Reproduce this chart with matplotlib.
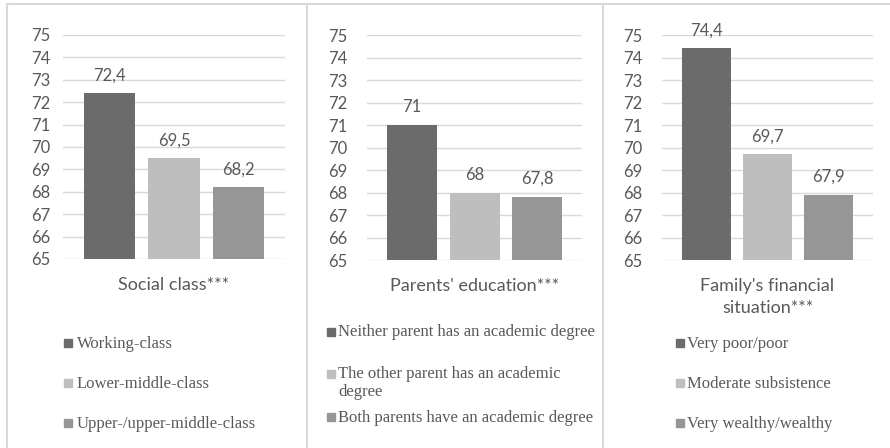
import matplotlib.pyplot as plt
from matplotlib.lines import Line2D
from matplotlib.patches import Rectangle

# data
titles = ["Social class***", "Parents' education***", "Family's financial\nsituation***"]
values = [
    [72.4, 69.5, 68.2],
    [71.0, 68.0, 67.8],
    [74.4, 69.7, 67.9],
]
legend_labels = [
    ["Working-class", "Lower-middle-class", "Upper-/upper-middle-class"],
    ["Neither parent has an academic degree",
     "The other parent has an academic\ndegree",
     "Both parents have an academic degree"],
    ["Very poor/poor", "Moderate subsistence", "Very wealthy/wealthy"],
]
yticks = list(range(65, 76))
colors = ["#6b6b6b", "#bebebe", "#969696"]

W, H = 890, 448
grid_c = "#d9d9d9"
text_c = "#595959"


def px_rect(l, t, r, b):
    return [l / W, 1 - b / H, (r - l) / W, (b - t) / H]


fig = plt.figure(figsize=(W / 100, H / 100), dpi=100)
fig.patch.set_facecolor("white")

# axes boxes in pixels (left, top, right, bottom) and y tick label pad
axes_px = [(63, 35, 285, 259), (367, 35, 582, 260), (662, 35, 873, 260)]
tick_pads = [9, 14, 14]
# legend: square x, text x, row centres (pixels)
legend_px = [(64, 77, [343, 383, 423]),
             (327, 338, [332, 374, 417]),
             (676, 687, [343, 383, 423])]

for k in range(3):
    ax = fig.add_axes(px_rect(*axes_px[k]))
    xs = range(len(values[k]))
    ax.bar(xs, values[k], width=0.8, color=colors, zorder=3)
    for x, v in zip(xs, values[k]):
        ax.text(x, v + 0.8, f"{v:g}".replace(".", ","), ha="center", va="center",
                fontsize=12, color=text_c, family="Lato")
    ax.set_ylim(65, 75)
    ax.set_xlim(-0.72, 2.72)
    ax.set_yticks(yticks)
    ax.set_xticks([])
    ax.yaxis.grid(True, color=grid_c, lw=1, zorder=0)
    for s in ax.spines.values():
        s.set_visible(False)
    ax.tick_params(axis="y", length=0, pad=tick_pads[k], labelsize=12, labelcolor=text_c)
    for lab in ax.get_yticklabels():
        lab.set_family("Lato")
    ax.set_xlabel(titles[k], fontsize=13, color=text_c, family="Lato",
                  labelpad=13, linespacing=1.45)

    sx, tx, rows = legend_px[k]
    for lab, c, y in zip(legend_labels[k], colors, rows):
        fig.patches.append(Rectangle((sx / W, 1 - (y + 4) / H), 8 / W, 8 / H,
                                     transform=fig.transFigure, color=c))
        fig.text(tx / W, 1 - (y - 7.5) / H, lab, ha="left", va="top",
                 fontsize=12, color=text_c, family="Liberation Serif",
                 linespacing=1.1)

# panel frames
for x in [7, 307, 603]:
    fig.add_artist(Line2D([x / W, x / W], [0, 1 - 4 / H], color=grid_c, lw=1.5))
fig.add_artist(Line2D([7 / W, 1], [1 - 4 / H, 1 - 4 / H], color=grid_c, lw=1.5))

fig.savefig("out.png", dpi=100, facecolor="white")
